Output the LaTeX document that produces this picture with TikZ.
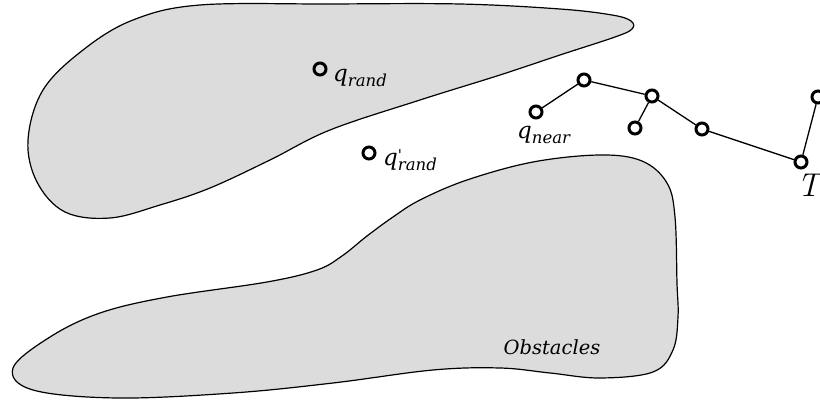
\documentclass[tikz,border=0pt]{standalone}
\usepackage{fontspec}
\setmainfont{DejaVu Serif}[Ligatures=TeXOff]
\newfontfamily\lmfont{Latin Modern Roman}
\definecolor{obgray}{RGB}{220,220,220}
\newcommand{\lowsub}[1]{\raisebox{-5pt}{\fontsize{16.5}{16.5}\selectfont #1}}
\tikzset{
  obst/.style={fill=obgray, draw=black, line width=1.2pt},
  vtx/.style={circle, draw=black, line width=3pt, minimum size=12pt, inner sep=0pt},
  link/.style={line width=1.3pt},
  lbl/.style={font=\itshape\fontsize{23}{23}\selectfont, inner sep=0pt, anchor=base west},
}
\begin{document}
\begin{tikzpicture}[x=1pt,y=-1pt]
\useasboundingbox (0,0) rectangle (820,403);
% upper obstacle
\draw[obst] plot[smooth cycle, tension=0.6] coordinates {
 (200,5) (330,4) (460,4) (560,9) (612,15) (631,21) (632,29) (615,37) (560,55)
 (500,75) (420,100) (330,130) (270,160) (210,188) (160,205) (110,218) (65,212)
 (37,182) (28,140) (43,90) (83,50) (133,20)};
% lower obstacle
\draw[obst] plot[smooth cycle, tension=0.6] coordinates {
 (13,368) (50,337) (100,313) (167,297) (267,282) (317,270) (342,256) (367,236)
 (393,217) (420,200) (467,180) (533,162) (600,155) (642,161) (667,183) (675,217)
 (677,283) (678,317) (673,350) (653,372) (600,378) (550,373) (500,368) (433,370)
 (333,383) (233,393) (117,398) (33,390)};
\node[font=\itshape\fontsize{19.5}{19.5}\selectfont, inner sep=0pt] (obs) at (552,347) {Obstacles};
% random samples
\node[vtx] (qr) at (320,69) {};
\node[lbl] (qrl) at (333,82) {q\lowsub{rand}};
\node[vtx] (qr2) at (369,153) {};
\node[lbl] (qr2l) at (383,166) {q\lowsub{\rlap{\raisebox{10pt}{\fontsize{15}{15}\selectfont\upshape '}}rand}};
% tree
\node[vtx] (n0) at (536,112) {};
\node[vtx] (n1) at (584,80) {};
\node[vtx] (n2) at (652,96) {};
\node[vtx] (n3) at (635,128) {};
\node[vtx] (n4) at (702,129) {};
\node[vtx] (n5) at (801,162) {};
\node[vtx] (n6) at (818,97) {};
\draw[link] (n0) -- (n1);
\draw[link] (n1) -- (n2);
\draw[link] (n2) -- (n3);
\draw[link] (n2) -- (n4);
\draw[link] (n4) -- (n5);
\draw[link] (n5) -- (n6);
\node[lbl] (nl) at (517,139) {q\lowsub{near}};
\node[inner sep=0pt, anchor=base west, font=\lmfont\itshape\fontsize{33}{33}\selectfont] (tl) at (797,197) {T};
\end{tikzpicture}
\end{document}
